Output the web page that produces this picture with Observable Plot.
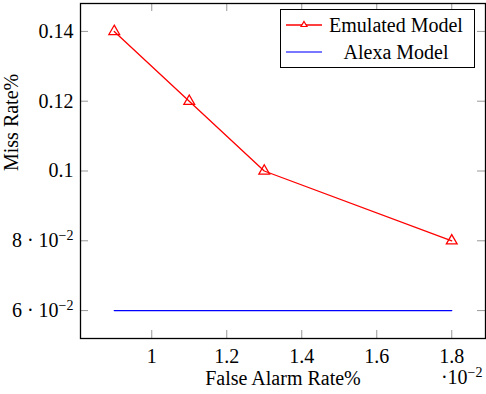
<!DOCTYPE html>
<html>
<head>
<meta charset="utf-8">
<script src="https://cdn.jsdelivr.net/npm/d3@7"></script>
<script src="https://cdn.jsdelivr.net/npm/@observablehq/plot@0.6"></script>
<style>
  html, body { margin: 0; padding: 0; background: #fff; }
  #wrap { position: relative; width: 486px; height: 394px; font-family: "Liberation Serif", "Times New Roman", "DejaVu Serif", serif; }
  #wrap svg text { font-family: "Liberation Serif", "Times New Roman", "DejaVu Serif", serif; }
  #legend { position: absolute; left: 280px; top: 9px; width: 195px; height: 59px; border: 1px solid #000; background: #fff; box-sizing: border-box; }
</style>
</head>
<body>
<div id="wrap"></div>
<script>
const emulatedX = [0.009, 0.011, 0.013, 0.018];
const emulatedY = [0.14, 0.12, 0.10, 0.08];
const alexaX = [0.009, 0.018];
const alexaY = [0.06, 0.06];
const xTicks = [0.010, 0.012, 0.014, 0.016, 0.018];
const xTickLabels = ["1", "1.2", "1.4", "1.6", "1.8"];
const yTicks = [0.06, 0.08, 0.10, 0.12, 0.14];
const yTickLabels = ["6 · 10^−2", "8 · 10^−2", "0.1", "0.12", "0.14"];
const seriesNames = ["Emulated Model", "Alexa Model"];
const seriesColors = ["#ff0000", "#0000ff"];
const xLabel = "False Alarm Rate%";
const yLabel = "Miss Rate%";
const xScaleNote = "·10^−2";

const emulated = emulatedX.map((x, i) => ({x, y: emulatedY[i]}));
const alexa = alexaX.map((x, i) => ({x, y: alexaY[i]}));

const W = 486, H = 394, mL = 80, mR = 1, mT = 3, mB = 56;
const innerW = W - mL - mR, innerH = H - mT - mB;
const tickLen = 8;
const font = "'Liberation Serif', 'Times New Roman', 'DejaVu Serif', serif";

const chart = Plot.plot({
  width: W, height: H,
  marginLeft: mL, marginRight: mR, marginTop: mT, marginBottom: mB,
  style: {fontFamily: font, fontSize: "20px", background: "#fff", color: "#000"},
  x: {domain: [0.0081, 0.0189]},
  y: {domain: [0.052, 0.148]},
  marks: [
    Plot.tickX(xTicks, {x: d => d, insetTop: innerH - tickLen, stroke: "#999", strokeWidth: 1}),
    Plot.tickX(xTicks, {x: d => d, insetBottom: innerH - tickLen, stroke: "#999", strokeWidth: 1}),
    Plot.tickY(yTicks, {y: d => d, insetRight: innerW - tickLen, stroke: "#999", strokeWidth: 1}),
    Plot.tickY(yTicks, {y: d => d, insetLeft: innerW - tickLen, stroke: "#999", strokeWidth: 1}),
    Plot.axisX({ticks: xTicks, tickFormat: (d, i) => xTickLabels[i], tickSize: 0, tickPadding: 10, label: null, fontSize: 20}),
    Plot.axisY({ticks: yTicks, tickFormat: (d, i) => yTickLabels[i], tickSize: 0, tickPadding: 7, label: null, fontSize: 20}),
    Plot.line(alexa, {x: "x", y: "y", stroke: seriesColors[1], strokeWidth: 1.3}),
    Plot.line(emulated, {x: "x", y: "y", stroke: seriesColors[0], strokeWidth: 1.3}),
    Plot.dot(emulated, {x: "x", y: "y", symbol: "triangle", r: 4, stroke: seriesColors[0], fill: "none", strokeWidth: 1.3}),
    Plot.frame({stroke: "#000", strokeWidth: 1.3}),
    Plot.text([xLabel], {text: d => d, frameAnchor: "bottom", dy: 46, fontSize: 20}),
    Plot.text([xScaleNote], {text: d => d, frameAnchor: "bottom-right", textAnchor: "end", dx: -3, dy: 45, fontSize: 20}),
    Plot.text([yLabel], {text: d => d, frameAnchor: "left", rotate: -90, dx: -69, fontSize: 20})
  ]
});

// turn "a^b" into a superscript tspan
chart.querySelectorAll("text").forEach(t => {
  const targets = t.querySelectorAll("tspan").length ? t.querySelectorAll("tspan") : [t];
  targets.forEach(el => {
    const s = el.textContent;
    if (!s.includes("^")) return;
    const [base, sup] = s.split("^");
    el.textContent = base;
    const ts = document.createElementNS("http://www.w3.org/2000/svg", "tspan");
    ts.setAttribute("baseline-shift", "7");
    ts.setAttribute("font-size", "14");
    ts.textContent = sup;
    el.appendChild(ts);
  });
});

const wrap = document.getElementById("wrap");
wrap.appendChild(chart);

// legend
const legend = document.createElement("div");
legend.id = "legend";
const ns = "http://www.w3.org/2000/svg";
const lsvg = document.createElementNS(ns, "svg");
lsvg.setAttribute("width", 195);
lsvg.setAttribute("height", 59);
lsvg.style.position = "absolute";
lsvg.style.left = "-1px";
lsvg.style.top = "-1px";
const rows = [16, 43];
seriesNames.forEach((name, i) => {
  const y = rows[i];
  const line = document.createElementNS(ns, "line");
  line.setAttribute("x1", 6); line.setAttribute("x2", 42);
  line.setAttribute("y1", y); line.setAttribute("y2", y);
  line.setAttribute("stroke", i === 0 ? seriesColors[0] : "#7777ff");
  line.setAttribute("stroke-width", i === 0 ? 1.3 : 2);
  lsvg.appendChild(line);
  if (i === 0) {
    const tri = document.createElementNS(ns, "path");
    tri.setAttribute("d", `M24,${y - 3.5} L27,${y + 1.5} L21,${y + 1.5} Z`);
    tri.setAttribute("fill", "#fff");
    tri.setAttribute("stroke", seriesColors[0]);
    tri.setAttribute("stroke-width", 1.2);
    lsvg.appendChild(tri);
  }
  const t = document.createElementNS(ns, "text");
  t.setAttribute("x", 116);
  t.setAttribute("y", y);
  t.setAttribute("dy", "0.35em");
  t.setAttribute("text-anchor", "middle");
  t.setAttribute("font-family", font);
  t.setAttribute("font-size", 20);
  t.textContent = name;
  lsvg.appendChild(t);
});
legend.appendChild(lsvg);
wrap.appendChild(legend);
</script>
</body>
</html>
